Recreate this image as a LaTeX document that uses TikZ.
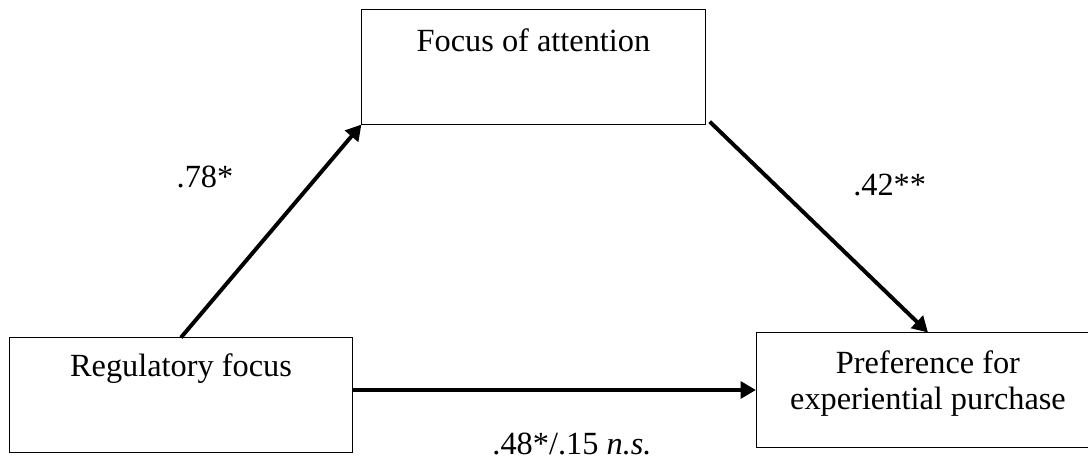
\documentclass[tikz,border=0pt]{standalone}
\usepackage{fontspec}
\setmainfont{Liberation Serif}
\usetikzlibrary{arrows.meta, positioning}

\begin{document}
\begin{tikzpicture}[x=0.025cm, y=0.025cm,
    box/.style={draw, line width=0.7pt, minimum width=8.575cm, minimum height=2.85cm, inner sep=0pt},
    txt/.style={anchor=base, inner sep=0pt, font=\fontsize{23}{26.3}\selectfont},
    link/.style={line width=2.8pt, -{Triangle[length=11pt, width=12pt]}}]

    \useasboundingbox (0,0) rectangle (1088,460);

    % Boxes
    \node[box] (attn) at (533.5,393) {};
    \node[box] (reg) at (181,65) {};
    \node[box] (pref) at (928,70) {};

    % Box texts
    \node[txt] (attntxt) at (533.5,408) {Focus of attention};
    \node[txt] (regtxt) at (181,83) {Regulatory focus};
    \node[txt, align=center] (preftxt) at (928,50) {Preference for\\experiential purchase};

    % Paths
    \draw[link] (reg.north) -- (attn.south west);
    \draw[link] ([xshift=3pt,yshift=2pt]attn.south east) -- (pref.north);
    \draw[link] (reg.east |- pref.west) -- (pref.west);

    % Coefficients
    \node[txt] (a) at (205,272) {.78*};
    \node[txt, anchor=base west] (b) at (853,264) {.42**};
    \node[txt] (c) at (572,5) {.48*/.15 \textit{n.s.}};

\end{tikzpicture}
\end{document}
